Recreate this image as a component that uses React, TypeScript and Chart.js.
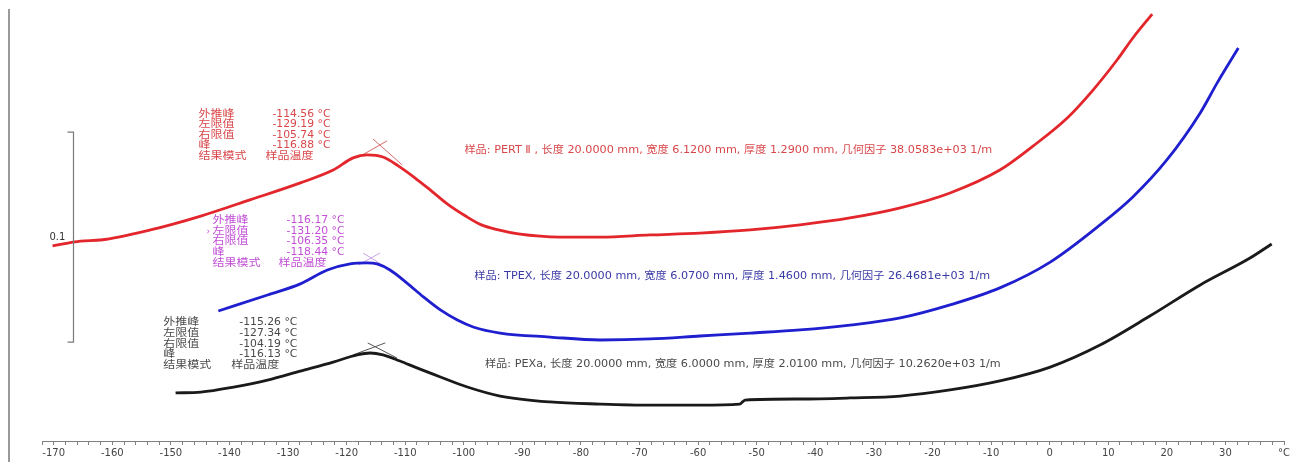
import React, { useEffect, useRef } from 'react';
import { Chart, registerables } from 'chart.js';

Chart.register(...registerables);

// ---- Data (temperature in °C, loss factor tan δ with vertical offsets) ----
const pertTemp = [-170.2, -165.4, -162.0, -153.5, -144.9, -136.5, -127.9, -122.3, -118.9, -116.5, -113.8, -111.2, -108.3, -105.5, -102.6, -99.7, -97.0, -94.1, -90.7, -83.6, -76.7, -68.2, -59.7, -51.1, -42.6, -34.1, -25.5, -17.0, -8.5, -2.8, 3.0, 7.4, 11.5, 14.2, 17.5];
const pertTanD = [0.0929, 0.0952, 0.0957, 0.1005, 0.1071, 0.1148, 0.1229, 0.1290, 0.1348, 0.1362, 0.1352, 0.1310, 0.1252, 0.1190, 0.1124, 0.1071, 0.1029, 0.1005, 0.0986, 0.0971, 0.0971, 0.0981, 0.0990, 0.1005, 0.1029, 0.1062, 0.1110, 0.1181, 0.1290, 0.1405, 0.1538, 0.1671, 0.1814, 0.1919, 0.2033];

const tpexTemp = [-141.9, -133.5, -127.9, -123.3, -119.4, -116.5, -114.8, -112.6, -109.7, -106.9, -104.0, -101.1, -98.4, -93.8, -85.3, -76.7, -68.2, -59.7, -51.1, -42.6, -34.1, -25.5, -17.0, -8.5, 0.1, 8.6, 14.2, 20.0, 25.7, 28.6, 32.2];
const tpexTanD = [0.0619, 0.0695, 0.0748, 0.0814, 0.0843, 0.0848, 0.0843, 0.0814, 0.0752, 0.0686, 0.0624, 0.0576, 0.0543, 0.0514, 0.0495, 0.0481, 0.0486, 0.0500, 0.0514, 0.0529, 0.0552, 0.0586, 0.0648, 0.0729, 0.0852, 0.1029, 0.1162, 0.1338, 0.1562, 0.1705, 0.1871];

const pexaTemp = [-149.2, -144.9, -139.3, -133.5, -127.9, -122.3, -118.2, -116.0, -113.8, -110.9, -108.0, -104.0, -99.4, -93.8, -85.3, -76.7, -68.2, -59.7, -52.9, -52.0, -42.6, -34.1, -25.5, -17.0, -8.5, 0.1, 8.6, 17.1, 25.7, 34.2, 37.9];
const pexaTanD = [0.0229, 0.0233, 0.0257, 0.0290, 0.0333, 0.0376, 0.0410, 0.0419, 0.0410, 0.0381, 0.0348, 0.0305, 0.0257, 0.0214, 0.0186, 0.0176, 0.0171, 0.0171, 0.0176, 0.0195, 0.0200, 0.0205, 0.0214, 0.0243, 0.0286, 0.0352, 0.0457, 0.0595, 0.0743, 0.0871, 0.0938];

// Peak tangent construction lines
const pertTanA_T = [-118.2, -113.1]; const pertTanA_Y = [0.1348, 0.1429];
const pertTanB_T = [-115.5, -110.5]; const pertTanB_Y = [0.1438, 0.1314];
const tpexTanA_T = [-118.0, -114.3]; const tpexTanA_Y = [0.0838, 0.0895];
const tpexTanB_T = [-117.2, -113.6]; const tpexTanB_Y = [0.0895, 0.0833];
const pexaTanA_T = [-118.9, -113.4]; const pexaTanA_Y = [0.0410, 0.0467];
const pexaTanB_T = [-116.4, -111.4]; const pexaTanB_Y = [0.0467, 0.0395];

// Axis
const axisMin = -172;
const axisMax = 40;
const unitLabelAt = 40;
const unitLabel = '°C';

// Scale bar (0.1 tan δ)
const scaleBarSpan = 0.1;
const scaleBarLabel = '0.1';
const scaleBarT = -166.7;
const scaleBarBottom = 0.0471;

// Result annotations
const resultLabels = ['外推峰', '左限值', '右限值', '峰', '结果模式'];
const pertResults = ['-114.56 °C', '-129.19 °C', '-105.74 °C', '-116.88 °C', '样品温度'];
const tpexResults = ['-116.17 °C', '-131.20 °C', '-106.35 °C', '-118.44 °C', '样品温度'];
const pexaResults = ['-115.26 °C', '-127.34 °C', '-104.19 °C', '-116.13 °C', '样品温度'];

const pertInfo = '样品: PERT Ⅱ , 长度 20.0000 mm, 宽度 6.1200 mm, 厚度 1.2900 mm, 几何因子 38.0583e+03 1/m';
const tpexInfo = '样品: TPEX, 长度 20.0000 mm, 宽度 6.0700 mm, 厚度 1.4600 mm, 几何因子 26.4681e+03 1/m';
const pexaInfo = '样品: PEXa, 长度 20.0000 mm, 宽度 6.0000 mm, 厚度 2.0100 mm, 几何因子 10.2620e+03 1/m';

const RED = '#e3262b';
const BLUE = '#1f1fcf';
const BLACK = '#1a1a1a';
const RED_TXT = '#d8474a';
const MAG_TXT = '#c24fd6';
const GRAY_TXT = '#4a4a4a';
const BLUE_TXT = '#3a3aa6';

const FONT = '"DejaVu Sans", "Noto Sans CJK SC", sans-serif';

function pts(t: number[], v: number[]) {
  return t.map((x, i) => ({ x, y: v[i] }));
}

function drawText(ctx: CanvasRenderingContext2D, s: string, px: number, py: number, color: string, size: number, sx: number) {
  ctx.save();
  ctx.translate(px, py);
  ctx.scale(sx, 1);
  ctx.font = `${size}px ${FONT}`;
  ctx.fillStyle = color;
  ctx.textBaseline = 'middle';
  ctx.textAlign = 'left';
  ctx.fillText(s, 0, 0);
  ctx.restore();
}

const blocks = [
  { t: -145.3, v: 0.1557, color: RED_TXT, values: pertResults, valOff: 74, modeOff: 67, mark: false },
  { t: -142.9, v: 0.1049, color: MAG_TXT, values: tpexResults, valOff: 74, modeOff: 66, mark: true },
  { t: -151.3, v: 0.0563, color: GRAY_TXT, values: pexaResults, valOff: 76, modeOff: 68, mark: false },
];

const infos = [
  { t: -99.9, v: 0.1386, color: RED_TXT, text: pertInfo },
  { t: -98.2, v: 0.0786, color: BLUE_TXT, text: tpexInfo },
  { t: -96.4, v: 0.0367, color: GRAY_TXT, text: pexaInfo },
];

const overlayPlugin = {
  id: 'overlay',
  afterDatasetsDraw(chart: any) {
    const { ctx, scales } = chart;
    const x = scales.x;
    const y = scales.y;
    ctx.save();
    // left frame line
    ctx.strokeStyle = '#9a9a9a';
    ctx.lineWidth = 2;
    ctx.beginPath();
    ctx.moveTo(9, 9);
    ctx.lineTo(9, chart.height);
    ctx.stroke();

    // scale bar
    const bx = Math.round(x.getPixelForValue(scaleBarT)) + 0.5;
    const by0 = y.getPixelForValue(scaleBarBottom);
    const by1 = y.getPixelForValue(scaleBarBottom + scaleBarSpan);
    ctx.strokeStyle = '#7a7a7a';
    ctx.lineWidth = 1.2;
    ctx.beginPath();
    ctx.moveTo(bx - 6, by1);
    ctx.lineTo(bx, by1);
    ctx.lineTo(bx, by0);
    ctx.lineTo(bx - 6, by0);
    ctx.stroke();
    drawText(ctx, scaleBarLabel, bx - 24, (by0 + by1) / 2, '#333', 10, 1);

    // result blocks
    blocks.forEach((b) => {
      const px = x.getPixelForValue(b.t);
      const py = y.getPixelForValue(b.v);
      resultLabels.forEach((lab, i) => {
        const ry = py + i * 10.6;
        drawText(ctx, lab, px, ry, b.color, 10, 1.2);
        const isMode = i === resultLabels.length - 1;
        drawText(ctx, b.values[i], px + (isMode ? b.modeOff : b.valOff), ry, b.color, 10, isMode ? 1.2 : 1.08);
      });
      if (b.mark) drawText(ctx, '›', px - 6, py + 10.6, b.color, 9, 1);
    });

    // sample info lines
    infos.forEach((s) => {
      drawText(ctx, s.text, x.getPixelForValue(s.t), y.getPixelForValue(s.v), s.color, 10, 1.12);
    });
    ctx.restore();
  },
};

export default function App() {
  const ref = useRef<HTMLCanvasElement | null>(null);
  useEffect(() => {
    if (!ref.current) return;
    const curve = (label: string, t: number[], v: number[], color: string) => ({
      label,
      data: pts(t, v),
      borderColor: color,
      backgroundColor: color,
      borderWidth: 2.8,
      pointRadius: 0,
      fill: false,
      cubicInterpolationMode: 'monotone' as const,
    });
    const tangent = (t: number[], v: number[], color: string) => ({
      label: 'tangent',
      data: pts(t, v),
      borderColor: color,
      borderWidth: 1,
      pointRadius: 0,
      fill: false,
      tension: 0,
    });
    const chart = new Chart(ref.current, {
      type: 'line',
      data: {
        datasets: [
          curve('PERT II', pertTemp, pertTanD, RED),
          curve('TPEX', tpexTemp, tpexTanD, BLUE),
          curve('PEXa', pexaTemp, pexaTanD, BLACK),
          tangent(pertTanA_T, pertTanA_Y, '#d66a6a'),
          tangent(pertTanB_T, pertTanB_Y, '#d66a6a'),
          tangent(tpexTanA_T, tpexTanA_Y, '#c9a2e2'),
          tangent(tpexTanB_T, tpexTanB_Y, '#c9a2e2'),
          tangent(pexaTanA_T, pexaTanA_Y, '#555555'),
          tangent(pexaTanB_T, pexaTanB_Y, '#555555'),
        ] as any,
      },
      options: {
        animation: false,
        responsive: false,
        maintainAspectRatio: false,
        layout: { padding: { left: 42, right: 10, top: 5, bottom: 1 } },
        plugins: { legend: { display: false }, tooltip: { enabled: false } },
        events: [],
        scales: {
          x: {
            type: 'linear',
            min: axisMin,
            max: axisMax,
            border: { display: true, color: '#808080', width: 1 },
            grid: { display: true, drawOnChartArea: false, drawTicks: true, tickLength: 4, color: '#808080' },
            ticks: {
              stepSize: 2,
              autoSkip: false,
              maxRotation: 0,
              minRotation: 0,
              padding: 2,
              color: '#444',
              font: { family: 'DejaVu Sans', size: 10 },
              callback: (value: any) => {
                const r = Math.round(Number(value) * 10) / 10;
                if (Math.abs(r - Math.round(r)) > 1e-6) return '';
                const n = Math.round(r);
                if (n % 10 !== 0) return '';
                if (n === unitLabelAt) return unitLabel;
                return String(n);
              },
            },
          },
          y: {
            type: 'linear',
            display: false,
            min: 0,
            max: 0.2076,
          },
        },
      },
      plugins: [overlayPlugin],
    });
    return () => chart.destroy();
  }, []);
  return (
    <div style={{ position: 'fixed', left: 0, top: 0, width: 1294, height: 462, background: '#fff' }}>
      <canvas ref={ref} width={1294} height={462} style={{ display: 'block' }} />
    </div>
  );
}
